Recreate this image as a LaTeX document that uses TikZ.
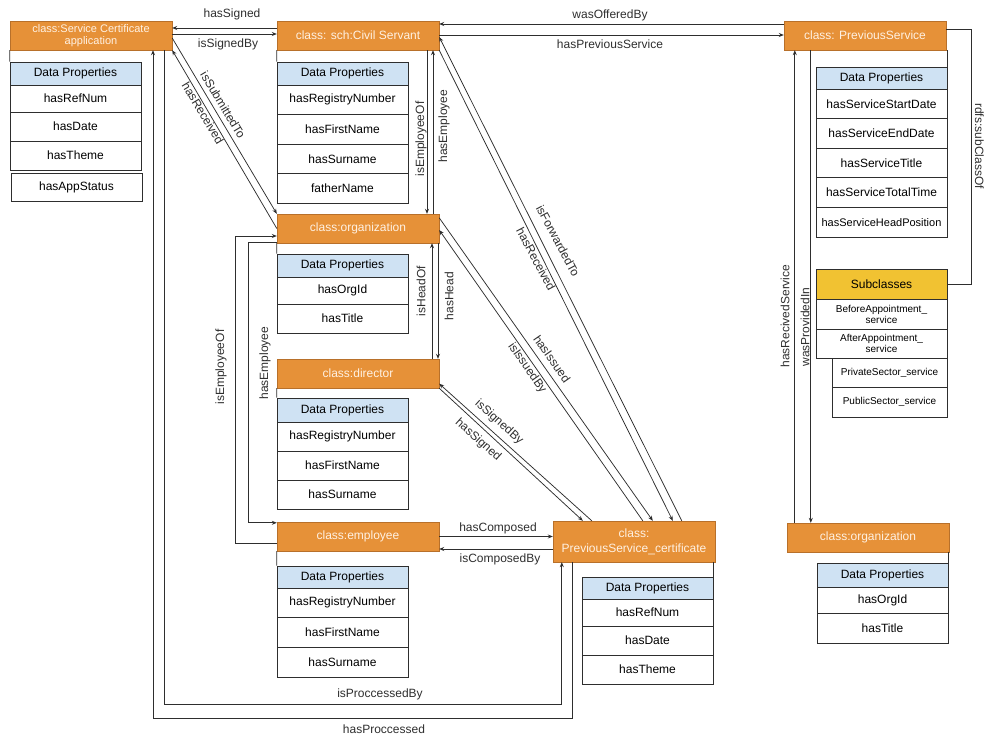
\documentclass[tikz,border=0pt]{standalone}
\usepackage{fontspec}
\setmainfont{Liberation Sans}
\usetikzlibrary{arrows.meta,shadows}
\definecolor{clsfill}{HTML}{E69138}
\definecolor{clsedge}{HTML}{B8702A}
\definecolor{clstext}{HTML}{FFF1E2}
\definecolor{hdrfill}{HTML}{CFE2F3}
\definecolor{subfill}{HTML}{F1C232}
\definecolor{ink}{HTML}{2E2E2E}

\begin{document}
\begin{tikzpicture}[x=1pt,y=-1pt,
  font=\fontsize{12}{14}\selectfont,
  cls/.style={draw=clsedge, fill=clsfill, text=clstext, minimum width=162pt,
    minimum height=29pt, inner sep=0pt, align=center,
    drop shadow={shadow xshift=1.2pt, shadow yshift=-1.2pt, opacity=0.3}},
  tbl/.style={draw=ink, line width=0.7pt, inner sep=0pt, minimum width=131pt,
    text=black, align=center},
  hdr/.style={tbl, fill=hdrfill, minimum height=23pt},
  row/.style={tbl, fill=white, minimum height=29pt},
  link/.style={draw=ink, line width=0.75pt},
  arr/.style={link, -{Stealth[length=5pt,width=4pt]}},
  lbl/.style={text=ink, inner sep=0pt},
]
\useasboundingbox (0,0) rectangle (986,736);

% ---------- Service Certificate application ----------
\node[cls, font=\fontsize{11}{12.5}\selectfont] (sca) at (91,35.5) {class:Service Certificate\\application};
\node[hdr] (scaH) at (75.5,73.5) {Data Properties};
\node[row, minimum height=27pt] (scaR1) at (75.5,98.5) {hasRefNum};
\node[row] (scaR2) at (75.5,126.5) {hasDate};
\node[row] (scaR3) at (75.5,155.5) {hasTheme};
\node[row, minimum height=28pt] (scaR4) at (76.5,187) {hasAppStatus};
\draw[link] (sca.south west) -- (scaH.north west);

% ---------- Civil Servant ----------
\node[cls] (cs) at (358,35.5) {class: sch:Civil Servant};
\node[hdr] (csH) at (342.5,73.5) {Data Properties};
\node[row, minimum height=29.5pt] (csR1) at (342.5,99.75) {hasRegistryNumber};
\node[row, minimum height=29.5pt] (csR2) at (342.5,129.25) {hasFirstName};
\node[row, minimum height=29.5pt] (csR3) at (342.5,158.75) {hasSurname};
\node[row, minimum height=29.5pt] (csR4) at (342.5,188.25) {fatherName};
\draw[link] (cs.south west) -- (csH.north west);

% ---------- PreviousService ----------
\node[cls] (ps) at (865,35.5) {class: PreviousService};
\node[hdr, minimum height=22pt] (psH) at (881.5,78) {Data Properties};
\node[row, minimum height=29.6pt] (psR1) at (881.5,103.8) {hasServiceStartDate};
\node[row, minimum height=29.6pt] (psR2) at (881.5,133.4) {hasServiceEndDate};
\node[row, minimum height=29.6pt] (psR3) at (881.5,163) {hasServiceTitle};
\node[row, minimum height=29.6pt] (psR4) at (881.5,192.6) {hasServiceTotalTime};
\node[row, minimum height=29.6pt, font=\fontsize{11}{13}\selectfont] (psR5) at (881.5,222.2) {hasServiceHeadPosition};
\draw[link] (psH.north east |- ps.south) -- (psH.north east);

% ---------- Subclasses ----------
\node[tbl, fill=subfill, minimum height=30pt] (sub) at (881.5,284) {Subclasses};
\node[row, minimum height=30pt, font=\fontsize{10}{11}\selectfont] (sub1) at (881.5,314) {BeforeAppointment\_\\service};
\node[row, font=\fontsize{10}{11}\selectfont] (sub2) at (881.5,343.5) {AfterAppointment\_\\service};
\node[row, minimum width=115pt, font=\fontsize{10}{11}\selectfont] (sub3) at (889.5,372.5) {PrivateSector\_service};
\node[row, minimum width=115pt, minimum height=30pt, font=\fontsize{10}{11}\selectfont] (sub4) at (889.5,402) {PublicSector\_service};

% ---------- organization ----------
\node[cls] (org) at (358,228.5) {class:organization};
\node[hdr] (orgH) at (342.5,265.5) {Data Properties};
\node[row, minimum height=27pt] (orgR1) at (342.5,290.5) {hasOrgId};
\node[row] (orgR2) at (342.5,318.5) {hasTitle};
\draw[link] (org.south west) -- (orgH.north west);

% ---------- director ----------
\node[cls] (dir) at (358,373.5) {class:director};
\node[hdr, minimum height=24pt] (dirH) at (342.5,410) {Data Properties};
\node[row] (dirR1) at (342.5,436.5) {hasRegistryNumber};
\node[row] (dirR2) at (342.5,465.5) {hasFirstName};
\node[row] (dirR3) at (342.5,494.5) {hasSurname};
\draw[link] (dir.south west) -- (dirH.north west);

% ---------- employee ----------
\node[cls] (emp) at (358,536.5) {class:employee};
\node[hdr, minimum height=22pt] (empH) at (342.5,577) {Data Properties};
\node[row, minimum height=29.7pt] (empR1) at (342.5,602.8) {hasRegistryNumber};
\node[row, minimum height=29.7pt] (empR2) at (342.5,632.5) {hasFirstName};
\node[row, minimum height=29.7pt] (empR3) at (342.5,662.2) {hasSurname};
\draw[link] (emp.south west) -- (empH.north west);

% ---------- PreviousService_certificate ----------
\node[cls, minimum height=41pt, font=\fontsize{12}{15}\selectfont] (cert) at (634,541.5) {class:\\PreviousService\_certificate};
\node[hdr, minimum height=22pt] (certH) at (647.5,588) {Data Properties};
\node[row, minimum height=27pt] (certR1) at (647.5,612.5) {hasRefNum};
\node[row] (certR2) at (647.5,640.5) {hasDate};
\node[row] (certR3) at (647.5,669.5) {hasTheme};
\draw[link] (certH.north east |- cert.south) -- (certH.north east);

% ---------- organization (right) ----------
\node[cls] (org2) at (868,537.5) {class:organization};
\node[hdr, minimum height=24pt] (org2H) at (882.5,575) {Data Properties};
\node[row, minimum height=26pt] (org2R1) at (882.5,600) {hasOrgId};
\node[row, minimum height=30pt] (org2R2) at (882.5,628) {hasTitle};
\draw[link] (org2H.north east |- org2.south) -- (org2H.north east);

% ---------- object properties ----------
% application <-> civil servant
\draw[arr] ([yshift=7.5pt]cs.west) -- ([yshift=7.5pt]sca.east);
\draw[arr] ([yshift=1.5pt]sca.east) -- ([yshift=1.5pt]cs.west);
\node[lbl] (lHasSigned) at (232,14) {hasSigned};
\node[lbl] (lIsSignedBy) at (228,44) {isSignedBy};

% civil servant <-> previous service
\draw[arr] ([yshift=11.5pt]ps.west) -- ([yshift=11.5pt]cs.east);
\draw[arr] ([yshift=0.5pt]cs.east) -- ([yshift=0.5pt]ps.west);
\node[lbl] (lWasOffered) at (610,15) {wasOfferedBy};
\node[lbl] (lHasPrev) at (610,44) {hasPreviousService};

% application <-> organization
\draw[arr] ([yshift=-2.5pt]sca.east) -- (org.north west);
\draw[arr] (org.west) -- (sca.south east);
\node[lbl, rotate=-59] (lSubmitted) at (223,105) {isSubmittedTo};
\node[lbl, rotate=-59] (lReceivedA) at (203,113) {hasReceived};

% civil servant <-> organization
\draw[arr] ([xshift=69pt]cs.south) -- ([xshift=69pt]org.north);
\draw[arr] ([xshift=75pt]org.north) -- ([xshift=75pt]cs.south);
\node[lbl, rotate=90] (lEmpOfA) at (421,139) {isEmployeeOf};
\node[lbl, rotate=90] (lHasEmpA) at (444,126) {hasEmployee};

% organization <-> director
\draw[arr] ([xshift=74pt]dir.north) -- ([xshift=74pt]org.south);
\draw[arr] ([xshift=80pt]org.south) -- ([xshift=80pt]dir.north);
\node[lbl, rotate=90] (lHeadOf) at (421,291) {isHeadOf};
\node[lbl, rotate=90] (lHasHead) at (449,296) {hasHead};

% organization <-> employee
\draw[arr] ([yshift=-6.5pt]emp.west) -- ++(-41,0) |- ([yshift=-7.5pt]org.west);
\draw[arr] ([yshift=0.5pt]org.south west) -- ++(-28,0) |- ([yshift=-1pt]emp.north west);
\node[lbl, rotate=90] (lEmpOfB) at (221,367) {isEmployeeOf};
\node[lbl, rotate=90] (lHasEmpB) at (265,363) {hasEmployee};

% employee <-> certificate
\coordinate (certIn) at ([yshift=-7.5pt]cert.west);
\draw[arr] (emp.east) -- (emp.east -| cert.west);
\draw[arr] (certIn) -- (certIn -| emp.east);
\node[lbl] (lComposed) at (498,528) {hasComposed};
\node[lbl] (lComposedBy) at (500,559) {isComposedBy};

% director <-> certificate
\draw[arr] ([xshift=39pt]cert.north west) -- ([yshift=4.5pt]dir.south east);
\draw[arr] (dir.south east) -- ([xshift=30pt]cert.north west);
\node[lbl, rotate=-42] (lSignedByB) at (499,422) {isSignedBy};
\node[lbl, rotate=-42] (lSignedB) at (478,440) {hasSigned};

% organization <-> certificate
\draw[arr] ([yshift=-4pt]org.north east) -- ([xshift=100pt]cert.north west);
\draw[arr] ([xshift=90pt]cert.north west) -- ([yshift=-1.5pt]org.east);
\node[lbl, rotate=-55] (lIssued) at (552,359) {hasIssued};
\node[lbl, rotate=-55] (lIssuedBy) at (527,368) {isIssuedBy};

% civil servant <-> certificate
\draw[arr] ([xshift=129pt]cert.north west) -- ([yshift=-1.5pt]cs.east);
\draw[arr] (cs.south east) -- ([xshift=120pt]cert.north west);
\node[lbl, rotate=-62] (lForwarded) at (558,241) {isForwardedTo};
\node[lbl, rotate=-62] (lReceivedB) at (536,259) {hasReceived};

% application <-> certificate, routed below everything
\draw[arr] ([xshift=73pt]sca.south) -- ++(0,654) -| ([xshift=9pt]cert.south west);
\draw[arr] ([xshift=20pt]cert.south west) -- ++(0,156) -| ([xshift=62pt]sca.south);
\node[lbl] (lProcBy) at (380,694) {isProccessedBy};
\node[lbl] (lProc) at (384,729) {hasProccessed};

% previous service <-> organization (right)
\draw[arr] ([xshift=8pt]org2.north west) -- ([xshift=11pt]ps.south west);
\draw[arr] ([xshift=27pt]ps.south west) -- ([xshift=24pt]org2.north west);
\node[lbl, rotate=90] (lRecServ) at (785,316) {hasRecivedService};
\node[lbl, rotate=90] (lProvided) at (805,327) {wasProvidedIn};

% subclass relation
\draw[link] ([yshift=6.5pt]ps.east) -- ++(25,0) |- (sub.east);
\node[lbl, rotate=-90] (lSubClass) at (979.5,146) {rdfs:subClassOf};

\end{tikzpicture}
\end{document}
